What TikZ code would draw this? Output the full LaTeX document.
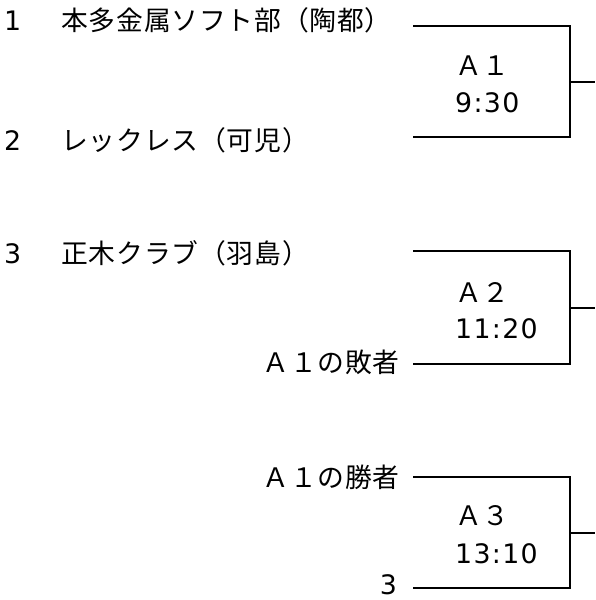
\documentclass[tikz,border=0pt]{standalone}
\usepackage{fontspec}
\setmainfont{Noto Sans CJK JP}[LetterSpace=3]
\newfontfamily\dig{DejaVu Sans}[LetterSpace=5]
\begin{document}
\begin{tikzpicture}[x=1pt,y=-1pt,
  lbl/.style={inner sep=0pt, font=\fontsize{26.8}{30}\selectfont},
  br/.style={line width=1.8pt, line join=miter}]
\useasboundingbox (0,0) rectangle (595,600);
% team labels
\node[lbl, anchor=base west] (t1) at (0,30) {\makebox[21pt][r]{\dig 1}\hspace{40pt}本多金属ソフト部（陶都）};
\node[lbl, anchor=base west] (t2) at (0,150) {\makebox[21pt][r]{\dig 2}\hspace{40pt}レックレス（可児）};
\node[lbl, anchor=base west] (t3) at (0,263) {\makebox[21pt][r]{\dig 3}\hspace{40pt}正木クラブ（羽島）};
\node[lbl, anchor=base east] (l1) at (400,372) {Ａ１の敗者};
\node[lbl, anchor=base east] (w1) at (400,487) {Ａ１の勝者};
\node[lbl, anchor=base east] (s3) at (397,594) {\dig 3};
% match labels
\node[lbl, anchor=base west] (m1) at (455,75) {Ａ１};
\node[lbl, anchor=base west] (m1t) at (455,112) {\dig 9:30};
\node[lbl, anchor=base west] (m2) at (455,302) {Ａ２};
\node[lbl, anchor=base west] (m2t) at (455,338) {\dig 11:20};
\node[lbl, anchor=base west] (m3) at (455,525) {Ａ３};
\node[lbl, anchor=base west] (m3t) at (455,563) {\dig 13:10};
% bracket A1
\coordinate (b1t) at (413,26);  \coordinate (b1tr) at (570,26);
\coordinate (b1b) at (413,137); \coordinate (b1br) at (570,137);
\coordinate (b1m) at (570,82); \coordinate (b1o) at (595,82);
\draw[br] (b1t) -- (b1tr) -- (b1br) -- (b1b);
\draw[br] (b1m) -- (b1o);
% bracket A2
\coordinate (b2t) at (413,251); \coordinate (b2tr) at (570,251);
\coordinate (b2b) at (413,364); \coordinate (b2br) at (570,364);
\coordinate (b2m) at (570,308); \coordinate (b2o) at (595,308);
\draw[br] (b2t) -- (b2tr) -- (b2br) -- (b2b);
\draw[br] (b2m) -- (b2o);
% bracket A3
\coordinate (b3t) at (413,477); \coordinate (b3tr) at (570,477);
\coordinate (b3b) at (413,588); \coordinate (b3br) at (570,588);
\coordinate (b3m) at (570,533); \coordinate (b3o) at (595,533);
\draw[br] (b3t) -- (b3tr) -- (b3br) -- (b3b);
\draw[br] (b3m) -- (b3o);
\end{tikzpicture}
\end{document}
